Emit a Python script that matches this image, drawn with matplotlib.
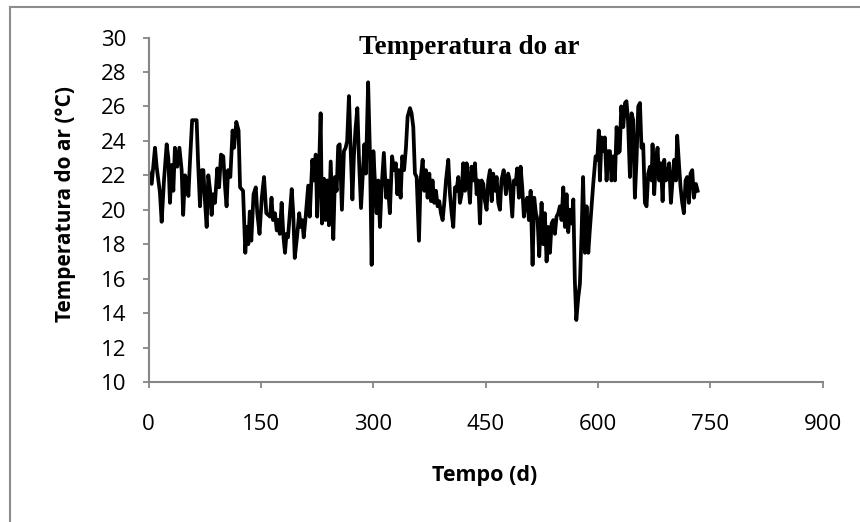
import matplotlib.pyplot as plt
from matplotlib.lines import Line2D

# Dados (dia, temperatura °C)
dias = [0, 4, 8.4, 10.6, 15, 17.3, 20.4, 24, 26.2, 28.4, 30.7, 32.9, 35, 38, 41, 44, 46, 48.5,
        51, 53, 55, 58, 64, 66, 68.5, 71, 73, 75, 77.4, 79.6, 82, 84, 86, 88.5, 91.6, 94, 96.5,
        99.6, 102, 104, 106, 109, 112, 114, 117, 120, 122, 126, 129, 131, 133, 135, 137, 140,
        143, 145, 148, 151, 154,
        157, 162, 164, 166, 168.6, 171, 173, 175, 177.5, 180, 182, 184, 186, 191, 193, 195, 198,
        201, 203, 205, 207, 209.6, 213, 215, 218.5, 220.7, 223, 225, 228, 229.6, 231.4, 234, 236,
        238.5, 240.7, 243, 246.5, 248.7, 251, 253, 255, 258, 260.7, 263, 265, 267.4, 269.6, 272,
        274, 276, 278.6, 281, 283.5, 285.7, 288, 290, 293, 295.5, 297.7, 300, 302, 304.4, 306.6,
        308.8, 311, 314, 317, 319, 322, 325, 327.5, 330, 332, 334, 336.4, 338.6, 341, 343.5,
        345.7, 348.9, 351, 353.3, 355.5, 357.8, 360.9, 363, 365.8, 368, 370.2, 372.4, 374.7, 377,
        379, 381.3, 383.6, 385.8, 388, 390.2, 392.5, 394.7, 397, 400, 402.3, 404.5, 406.7, 409,
        411, 413.4, 415.6, 417.8, 420, 422.3, 424.5, 426.7, 429, 431, 433.4, 435.6, 437.9, 440,
        442.3, 444.5, 446.8, 449, 451.2, 453.4, 455.7, 458, 460, 462.3, 464.6, 466.8,
        469, 471, 474, 477, 480, 482, 485.5, 487.7, 490, 492, 494.4, 496.6, 498.8, 501, 503,
        505.5, 507.7, 510, 512.6, 514.8, 517, 519.3, 521.5, 524.6, 526.9, 529, 531.3, 533.5,
        535.8, 538, 540.2, 542.4, 544.6, 546.9, 549, 551.3, 553.6, 555.8, 558, 560.2, 562.5,
        564.7, 567, 569, 571, 573.6, 575.8, 578, 580, 582.5, 584.7, 587, 589, 591.4, 593.6,
        596.7, 599, 601, 602.5, 604.7, 607, 609, 611.4, 613.6, 615.9, 618, 620.3, 622.5, 624.8,
        627,
        629, 631, 633.7, 636, 638, 640, 642.6, 644.8, 647, 649.2, 651.4, 653.7, 656, 658, 660.3,
        662.6, 664.8, 667, 669.3, 671.5, 672.8, 675, 677.3, 679.5, 681.7, 684, 686.2, 688.4,
        690.6, 692.8, 695, 697.3, 699.5, 701.7, 704, 705.7, 708, 710.2, 712.4, 714.6, 716.9, 719,
        721.3, 723.5, 725.8, 728, 730.7, 733]

temperatura = [22.2, 21.5, 23.6, 22.5, 21.0, 19.3, 21.7, 23.8, 23.0, 20.4, 22.6, 21.1, 23.6, 22.5,
               23.6, 22.3, 19.7, 22.0, 21.7, 20.8, 22.7, 25.2, 25.2, 22.7, 20.2, 22.3, 22.3, 20.6,
               19.0, 22.0, 21.1, 19.7, 20.9, 20.4, 22.4, 21.3, 23.2, 23.1, 21.3, 20.2, 22.3, 21.9,
               24.6, 23.6, 25.1, 24.6, 21.3, 21.1, 17.5, 19.0, 18.0, 19.9, 18.2, 20.9, 21.3, 19.8,
               18.6, 20.7, 21.9,
               19.8, 19.6, 20.7, 19.4, 19.8, 18.8, 19.4, 18.6, 20.4, 18.4, 17.5, 18.6, 18.4, 21.2,
               19.8, 17.2, 18.4, 19.8, 19.0, 19.4, 18.4, 19.6, 21.4, 19.6, 22.9, 21.7, 23.2, 19.6,
               23.2, 25.6, 19.2, 21.8, 19.4, 21.7, 19.1, 22.8, 18.3, 21.9, 21.1, 23.7, 23.8, 20.0,
               23.4, 23.6, 24.0, 26.6, 23.6, 20.6, 23.1, 24.6, 25.9, 22.7, 20.1, 21.9, 23.8, 22.1,
               27.4, 23.1, 16.8, 23.4, 21.7, 19.8, 21.7,
               19.0, 21.3, 23.3, 20.7, 21.7, 19.8, 23.1, 22.3, 22.7, 20.9, 22.3, 20.7, 23.1, 22.3,
               23.6, 25.4, 25.9, 25.6, 24.8, 22.1, 21.9, 18.2, 21.7, 22.9, 21.1, 22.3, 20.7, 22.1,
               20.5, 21.7, 20.4, 21.1, 20.2, 20.5, 19.8, 19.4, 20.4, 21.7, 22.9, 20.9, 19.8, 19.0,
               21.3, 21.1, 21.9, 20.4, 20.9, 22.7, 21.1, 22.7, 21.7, 20.4, 22.5, 21.7, 22.7, 20.9,
               21.7, 19.2, 21.7, 21.5, 20.5, 20.0, 21.7, 22.3, 20.5, 22.1, 21.1, 21.9, 20.4,
               20.0, 21.7, 22.3, 20.9, 22.1, 21.7, 19.6, 21.7, 21.5, 22.4, 20.7, 22.5, 21.3, 19.6,
               20.4, 20.7, 19.4, 21.1, 16.8, 20.7, 19.8, 19.4, 17.3, 20.4, 18.0, 19.8, 17.0, 19.0,
               17.5, 19.2, 19.4, 18.6, 19.6, 19.8, 20.2, 19.4, 21.3, 19.0, 20.9, 18.7, 20.0, 19.2,
               20.6, 15.9, 13.6, 14.9, 15.7, 18.6, 21.9, 17.5, 20.2, 17.5, 18.8, 20.2, 21.5, 23.1,
               22.9, 24.6, 21.7, 24.2, 23.4, 24.2, 21.7, 23.4, 23.4, 21.7, 23.1, 21.7, 24.8, 23.3,
               23.4, 26.0, 24.8, 26.2, 26.3, 25.2, 21.9, 25.6, 25.2, 20.7, 22.9, 26.0, 26.2, 23.6,
               23.8, 20.4, 20.2, 22.1, 22.5, 21.7, 23.8, 20.9, 22.9, 23.6, 21.7, 22.7, 20.5, 22.9,
               21.7, 21.9, 22.7, 20.4, 21.7, 22.9, 21.7, 24.3, 22.7, 21.3, 20.4, 19.8, 21.7, 21.9,
               20.4, 22.1, 22.3, 20.7, 21.5, 21.1]

xticks = [0, 150, 300, 450, 600, 750, 900]
yticks = [10, 12, 14, 16, 18, 20, 22, 24, 26, 28, 30]

cinza = '#868686'

fig = plt.figure(figsize=(8.6, 5.22), dpi=100)
ax = fig.add_axes([148.7 / 860, 1 - 382 / 522, 674 / 860, 344.5 / 522])

ax.plot(dias, temperatura, color='black', linewidth=2.7, solid_joinstyle='round')

ax.set_xlim(0, 900)
ax.set_ylim(10, 30)
ax.set_xticks(xticks)
ax.set_yticks(yticks)

for lado in ['top', 'right']:
    ax.spines[lado].set_visible(False)
for lado in ['left', 'bottom']:
    ax.spines[lado].set_color(cinza)
    ax.spines[lado].set_linewidth(1.5)

ax.tick_params(axis='both', direction='out', length=4, width=1.3, color=cinza,
               labelsize=16, labelcolor='black')
ax.tick_params(axis='y', pad=12)
ax.tick_params(axis='x', pad=19)
for lab in ax.get_xticklabels() + ax.get_yticklabels():
    lab.set_fontfamily('Open Sans')

# Títulos e rótulos
fig.text(469 / 860, 1 - 47 / 522, 'Temperatura do ar', fontfamily='Liberation Serif',
         fontweight='bold', fontsize=19.5, ha='center', va='center')
fig.text(65 / 860, 1 - 204 / 522, 'Temperatura do ar (°C)', fontfamily='Open Sans',
         fontweight='bold', fontsize=15, rotation=90, ha='center', va='center')
fig.text(484.5 / 860, 1 - 475 / 522, 'Tempo (d)', fontfamily='Open Sans',
         fontweight='bold', fontsize=15.5, ha='center', va='center')

# Borda da área do gráfico
fig.add_artist(Line2D([10 / 860, 10 / 860], [1 - 7 / 522, 0], transform=fig.transFigure,
                      color='#8c8c8c', linewidth=1.5))
fig.add_artist(Line2D([10 / 860, 1], [1 - 7 / 522, 1 - 7 / 522], transform=fig.transFigure,
                      color='#8c8c8c', linewidth=1.5))

fig.savefig('out.png', dpi=100)
